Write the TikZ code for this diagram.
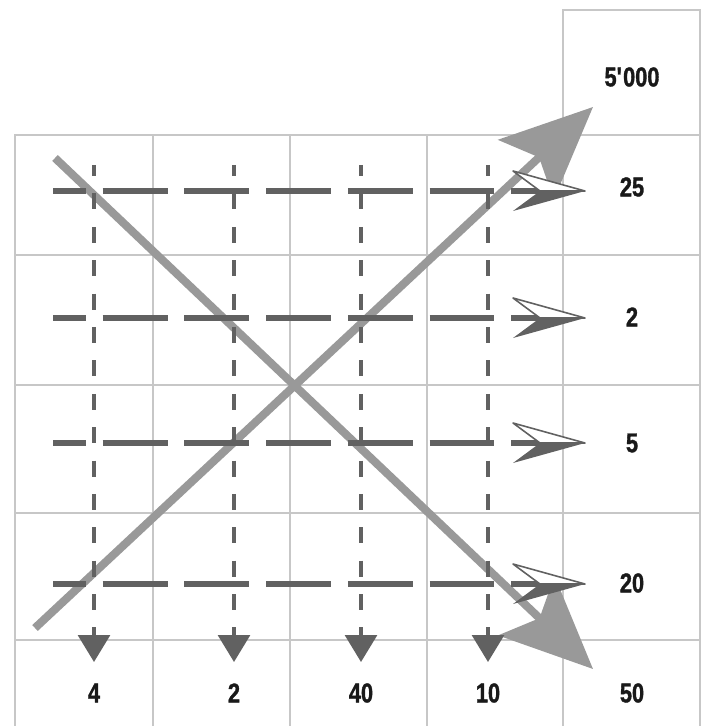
\documentclass[tikz,border=0pt]{standalone}
\usepackage{fontspec}
\setmainfont{Liberation Sans}
\newfontfamily\numfont{Liberation Sans}[UprightFont={* Bold}, FakeStretch=0.8, FakeBold=1.2]
\usepackage{tikz}
\usetikzlibrary{
  arrows.meta,
  positioning
}

\begin{document}
\begin{tikzpicture}[
  x=0.02cm, y=-0.02cm,
  cell/.style={draw=black!22, line width=0.8pt},
  hflow/.style={draw=black!62, line width=3.4pt,
                dash pattern=on 36.9pt off 9.6pt, dash phase=18.2pt},
  vflow/.style={draw=black!62, line width=1.8pt,
                dash pattern=on 9.1pt off 9.9pt, dash phase=2.8pt,
                -{Triangle[length=15.3pt, width=18.1pt]}},
  bigarr/.style={draw=black!40, line width=4.6pt,
                 -{Stealth[length=52pt, width=46pt, inset=10pt]}},
  num/.style={font=\fontsize{15.5}{18}\numfont, text=black!90},
  halfhead/.pic={
    \fill[black!62] (45,0) -- (-27,20) -- (0,0) -- cycle;
    \filldraw[fill=white, draw=black!62, line width=0.9pt, line join=round]
      (45,0) -- (-27,-20) -- (0,0) -- cycle;
  }
]
  \useasboundingbox (0,0) rectangle (705,726);

  % table
  \draw[cell] (563,726) -- (563,10) -- (700,10) -- (700,726);
  \draw[cell] (15,726) -- (15,135) -- (700,135);
  \draw[cell] (153,135) -- (153,726);
  \draw[cell] (290,135) -- (290,726);
  \draw[cell] (427,135) -- (427,726);
  \draw[cell] (15,255) -- (700,255);
  \draw[cell] (15,385) -- (700,385);
  \draw[cell] (15,513) -- (700,513);
  \draw[cell] (15,640) -- (700,640);

  \node[num] (total) at (632,77)  {5\textquotesingle000};
  \node[num] (r25)   at (632,187) {25};
  \node[num] (r2)    at (632,317) {2};
  \node[num] (r5)    at (632,443) {5};
  \node[num] (r20)   at (632,583) {20};
  \node[num] (c4)    at (94,693)  {4};
  \node[num] (c2)    at (234,693) {2};
  \node[num] (c40)   at (361,693) {40};
  \node[num] (c10)   at (488,693) {10};
  \node[num] (c50)   at (632,693) {50};

  % diagonals
  \coordinate (sw) at (35,628);
  \coordinate (ne) at (593,107);
  \coordinate (nw) at (55,158);
  \coordinate (se) at (593,669);
  \draw[bigarr] (sw) -- (ne);
  \draw[bigarr] (nw) -- (se);

  % row flows
  \coordinate (in25) at (53,191);  \coordinate (out25) at (540,191);
  \coordinate (in2)  at (53,318);  \coordinate (out2)  at (540,318);
  \coordinate (in5)  at (53,443);  \coordinate (out5)  at (540,443);
  \coordinate (in20) at (53,584);  \coordinate (out20) at (540,584);
  \draw[hflow] (in25) -- (out25);
  \draw[hflow] (in2)  -- (out2);
  \draw[hflow] (in5)  -- (out5);
  \draw[hflow] (in20) -- (out20);

  % column flows
  \coordinate (top4)  at (94,165);  \coordinate (bot4)  at (94,662);
  \coordinate (top2)  at (234,165); \coordinate (bot2)  at (234,662);
  \coordinate (top40) at (361,165); \coordinate (bot40) at (361,662);
  \coordinate (top10) at (488,165); \coordinate (bot10) at (488,662);
  \draw[vflow] (top4)  -- (bot4);
  \draw[vflow] (top2)  -- (bot2);
  \draw[vflow] (top40) -- (bot40);
  \draw[vflow] (top10) -- (bot10);

  \pic at (out25) {halfhead};
  \pic at (out2)  {halfhead};
  \pic at (out5)  {halfhead};
  \pic at (out20) {halfhead};
\end{tikzpicture}
\end{document}
